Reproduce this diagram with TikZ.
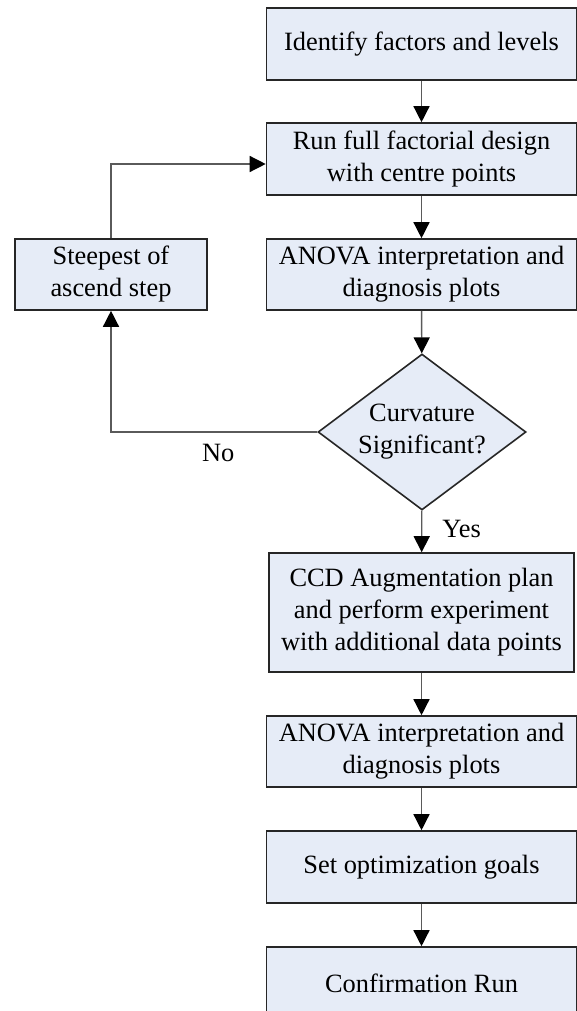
\documentclass[tikz,border=0pt]{standalone}
\usepackage{fontspec}
\setmainfont{Liberation Serif}
\usetikzlibrary{shapes.geometric,arrows.meta}
\definecolor{boxfill}{RGB}{230,236,247}
\definecolor{edgegray}{RGB}{90,90,90}
\begin{document}
\begin{tikzpicture}[x=0.5pt,y=-0.5pt,
    stepbox/.style={rectangle,draw=black!85,line width=0.8pt,fill=boxfill,
      align=center,inner sep=0pt,font=\fontsize{13.2}{16}\selectfont},
    decision/.style={diamond,draw=black!85,line width=0.8pt,fill=boxfill,
      align=center,inner sep=0pt,aspect=1.33,minimum width=104pt,minimum height=78pt,
      font=\fontsize{13.2}{16}\selectfont},
    flow/.style={draw=edgegray,line width=0.7pt,-{Triangle[length=8pt,width=8pt,color=black]}},
    tag/.style={font=\fontsize{13.2}{16}\selectfont,inner sep=0pt}]

    \useasboundingbox (0,0) rectangle (577,1011);

    % Main column
    \node[stepbox,minimum width=155pt,minimum height=36pt] (ident) at (421.5,44) {Identify factors and levels};
    \node[stepbox,minimum width=155pt,minimum height=36pt] (full) at (421.5,159) {Run full factorial design\\with centre points};
    \node[stepbox,minimum width=155pt,minimum height=35.5pt] (anova1) at (421.5,274.5) {ANOVA interpretation and\\diagnosis plots};
    \node[decision] (curv) at (422,432) {Curvature\\Significant?};
    \node[stepbox,minimum width=152.5pt,minimum height=59.5pt] (ccd) at (421.5,612.5) {CCD Augmentation plan\\and perform experiment\\with additional data points};
    \node[stepbox,minimum width=155pt,minimum height=35.5pt] (anova2) at (421.5,751.5) {ANOVA interpretation and\\diagnosis plots};
    \node[stepbox,minimum width=155pt,minimum height=36pt] (goals) at (421.5,867) {Set optimization goals};
    \node[stepbox,minimum width=155pt,minimum height=36pt] (confirm) at (421.5,983) {Confirmation Run};

    % Side box
    \node[stepbox,minimum width=96pt,minimum height=35.5pt] (steep) at (111,274.5) {Steepest of\\ascend step};

    % Arrows down the column
    \draw[flow] (ident) -- (full);
    \draw[flow] (full) -- (anova1);
    \draw[flow] (anova1) -- (curv);
    \draw[flow] (curv) -- node[tag,pos=0.45,right=10pt] {Yes} (ccd);
    \draw[flow] (ccd) -- (anova2);
    \draw[flow] (anova2) -- (goals);
    \draw[flow] (goals) -- (confirm);

    % Loop back
    \draw[flow] (curv.west) -| node[tag,pos=0.24,below=6pt] {No} (steep.south);
    \draw[flow] (steep.north) |- ([yshift=-2.5pt]full.west);

  \end{tikzpicture}
\end{document}
